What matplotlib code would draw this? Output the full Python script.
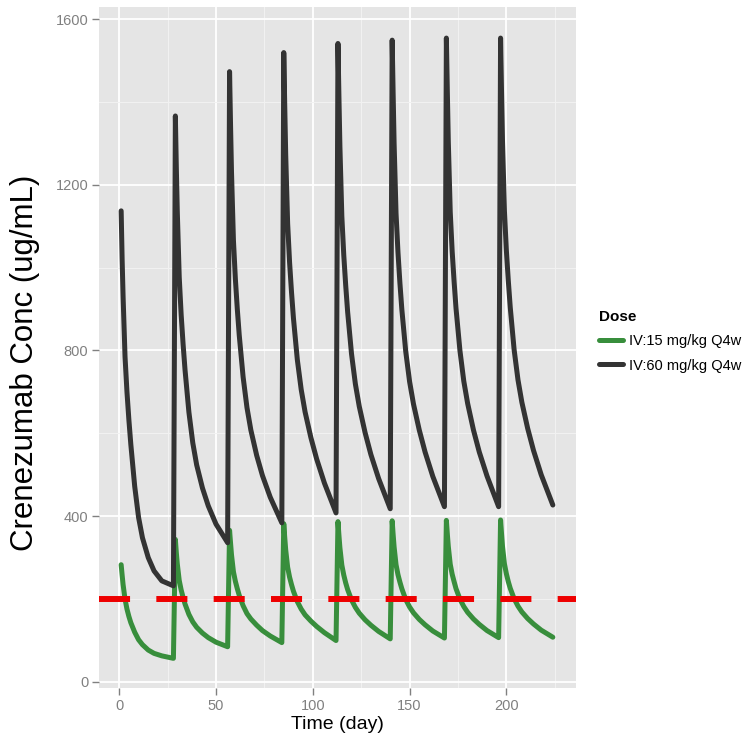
import matplotlib
matplotlib.use("Agg")
import matplotlib.pyplot as plt

# dosing days (Q4w) and sampling offsets (days after each dose)
dose_days = [0, 28, 56, 84, 112, 140, 168, 196]
sample_offsets = [1, 1.5, 2, 3, 4, 5, 6, 8, 10, 12, 15, 18, 22, 28]

# concentrations, one row per dosing cycle
conc_60 = [
    [1137, 1020, 930, 785, 700, 632, 573, 472, 397, 348, 300, 268, 244, 232],
    [1366, 1241, 1135, 977, 886, 815, 753, 651, 577, 524, 468, 425, 381, 336],
    [1473, 1346, 1231, 1066, 973, 900, 837, 736, 662, 608, 547, 498, 446, 384],
    [1519, 1391, 1273, 1107, 1013, 941, 878, 778, 706, 652, 590, 538, 480, 408],
    [1541, 1412, 1293, 1124, 1030, 957, 893, 792, 719, 665, 602, 549, 491, 418],
    [1549, 1420, 1300, 1131, 1037, 963, 899, 798, 725, 671, 608, 555, 496, 423],
    [1554, 1424, 1304, 1134, 1039, 966, 901, 800, 726, 672, 608, 555, 497, 423],
    [1554, 1424, 1305, 1136, 1041, 968, 904, 802, 729, 675, 612, 559, 500, 427],
]
conc_15 = [
    [283, 258, 235, 200, 176, 158, 143, 120, 102, 90, 77, 69, 63, 57],
    [344, 312, 285, 245, 222, 204, 188, 163, 145, 132, 118, 107, 96, 85],
    [366, 336, 307, 266, 243, 225, 209, 184, 165, 152, 137, 124, 111, 95],
    [382, 349, 319, 277, 253, 235, 219, 194, 176, 162, 147, 134, 119, 100],
    [387, 354, 324, 282, 258, 239, 223, 198, 180, 166, 150, 137, 122, 104],
    [389, 356, 326, 283, 259, 241, 225, 199, 181, 167, 151, 138, 123, 106],
    [390, 357, 327, 284, 260, 242, 225, 200, 182, 168, 152, 139, 124, 107],
    [391, 358, 327, 285, 261, 242, 226, 201, 183, 169, 153, 140, 125, 108],
]
labels = ["IV:15 mg/kg Q4w", "IV:60 mg/kg Q4w"]
target_conc = 200

plt.rcParams['font.family'] = ['Liberation Sans', 'DejaVu Sans']


def flatten(rows):
    t, c = [], []
    for d, row in zip(dose_days, rows):
        for off, v in zip(sample_offsets, row):
            t.append(d + off)
            c.append(v)
    return t, c


t15, c15 = flatten(conc_15)
t60, c60 = flatten(conc_60)

fig = plt.figure(figsize=(7.55, 7.38), dpi=100)
ax = fig.add_axes([0.1315, 0.0678, 0.6315, 0.9227])
ax.set_facecolor("#E5E5E5")
for s in ax.spines.values():
    s.set_visible(False)

ax.set_xlim(-10.3, 236)
ax.set_ylim(-14.5, 1629)
ax.set_xticks([0, 50, 100, 150, 200])
ax.set_xticks([25, 75, 125, 175, 225], minor=True)
ax.set_yticks([0, 400, 800, 1200, 1600])
ax.set_yticks([200, 600, 1000, 1400], minor=True)
ax.grid(which='major', color='white', lw=1.3)
ax.grid(which='minor', color='#F2F2F2', lw=0.7)
ax.set_axisbelow(True)
ax.tick_params(which='major', length=5, width=1, color='#808080',
               labelcolor='#808080', labelsize=10.5, pad=3)
ax.tick_params(which='minor', length=0)

ax.plot(t15, c15, color='#388E3C', lw=3.6, solid_joinstyle='round',
        solid_capstyle='round', label=labels[0])
ax.plot(t60, c60, color='#333333', lw=3.6, solid_joinstyle='round',
        solid_capstyle='round', label=labels[1])
ax.axhline(target_conc, color='#EE0000', lw=4.3, dashes=(5.2, 4.4))

ax.set_xlabel("Time (day)", fontsize=14, labelpad=2)
ax.set_ylabel("Crenezumab Conc (ug/mL)", fontsize=22.5)
ax.yaxis.set_label_coords(-0.124, 0.477)

leg = ax.legend(loc='center left', bbox_to_anchor=(1.035, 0.509), frameon=False,
                title="Dose", fontsize=10.5, handlelength=1.7,
                handletextpad=0.4, borderaxespad=0, labelspacing=0.7)
leg.get_title().set_fontweight('bold')
leg.get_title().set_fontsize(11)
leg._legend_box.align = "left"

fig.savefig("out.png", dpi=100)
